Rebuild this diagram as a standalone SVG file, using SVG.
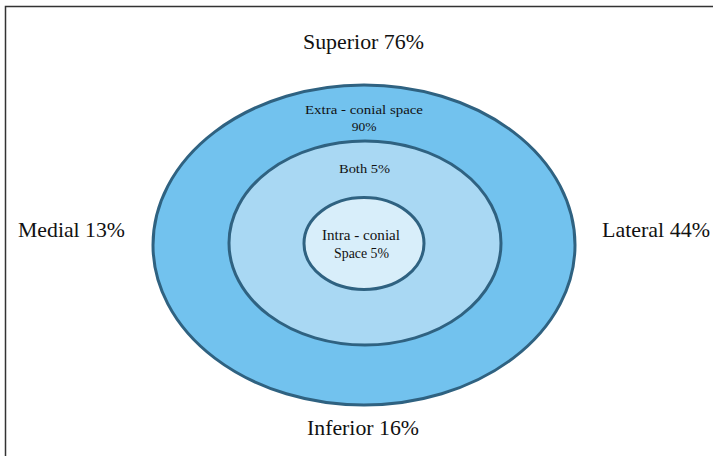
<svg xmlns="http://www.w3.org/2000/svg" width="713" height="456" viewBox="0 0 713 456">
<style>
.ring{stroke:#2f6281;stroke-width:3}
.lbl{font-family:"Liberation Serif","Times New Roman",serif;fill:#111;text-anchor:middle}
.big{font-size:22px}
.small{font-size:13.5px}
.mid{font-size:14.5px}
</style>
<rect width="713" height="456" fill="#ffffff"/>
<path d="M5.5 456 V6.5 H713" fill="none" stroke="#333" stroke-width="1.5"/>
<g id="outer">
<ellipse class="ring" cx="364" cy="245" rx="211" ry="160" fill="#72c2ee"/>
<text class="lbl small" x="364" y="114" textLength="118" lengthAdjust="spacingAndGlyphs">Extra - conial space</text>
<text class="lbl small" x="364" y="131">90%</text>
</g>
<g id="middle">
<ellipse class="ring" cx="365" cy="243" rx="136" ry="102" fill="#a9d8f3"/>
<text class="lbl small" x="364.5" y="173" textLength="51" lengthAdjust="spacingAndGlyphs">Both 5%</text>
</g>
<g id="inner">
<ellipse class="ring" cx="364" cy="243.5" rx="60" ry="46" fill="#d8eefa"/>
<text class="lbl mid" x="361" y="240" textLength="78" lengthAdjust="spacingAndGlyphs">Intra - conial</text>
<text class="lbl mid" x="361.5" y="258" textLength="55" lengthAdjust="spacingAndGlyphs">Space 5%</text>
</g>
<g id="labels">
<text class="lbl big" x="363.5" y="49" textLength="121" lengthAdjust="spacingAndGlyphs">Superior 76%</text>
<text class="lbl big" x="71.5" y="237" textLength="107" lengthAdjust="spacingAndGlyphs">Medial 13%</text>
<text class="lbl big" x="656" y="237" textLength="108" lengthAdjust="spacingAndGlyphs">Lateral 44%</text>
<text class="lbl big" x="363" y="435" textLength="112" lengthAdjust="spacingAndGlyphs">Inferior 16%</text>
</g>
<g id="connectors"></g>
</svg>
